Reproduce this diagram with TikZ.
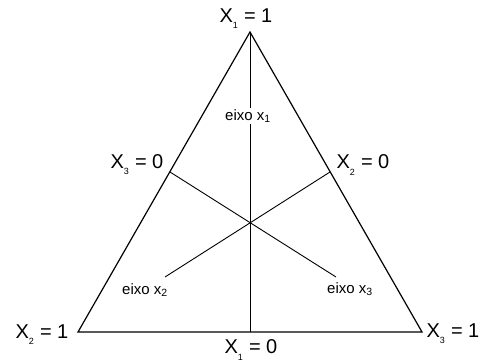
\documentclass[tikz,border=0pt]{standalone}
\usepackage{fontspec}
\setmainfont{Liberation Sans}
\usepackage{tikz}
\tikzset{
  vlbl/.style={font=\fontsize{20}{23}\selectfont, inner sep=1pt},
  eixo/.style={font=\fontsize{15}{17}\selectfont, inner sep=1.5pt},
}
\newcommand{\xs}[1]{X\textsubscript{\fontsize{9}{10}\selectfont\raisebox{-3pt}{#1}}}

\begin{document}
\begin{tikzpicture}[x=1pt, y=-1pt,
  side/.style={line width=1.2pt, line join=miter},
  axis/.style={line width=0.9pt}]
  \useasboundingbox (0,0) rectangle (482,363);
  \coordinate (v1) at (250,32);
  \coordinate (v2) at (78,332);
  \coordinate (v3) at (422,332);
  \coordinate (m3) at (170,172);
  \coordinate (m2) at (330,172);
  \coordinate (m1) at (250,332);
  \coordinate (e2) at (165,277);
  \coordinate (e3) at (336,277);
  \draw[side] (v1) -- (v2) -- (v3) -- cycle;
  \node[eixo] (ex1) at (248,116) {eixo x\textsubscript{1}};
  \node[eixo] (ex2) at (145,290) {eixo x\textsubscript{2}};
  \node[eixo] (ex3) at (350,289) {eixo x\textsubscript{3}};
  \draw[axis] (v1) -- (v1 |- ex1.north);
  \draw[axis] (v1 |- ex1.south) -- (m1);
  \draw[axis] (m2) -- (e2);
  \draw[axis] (m3) -- (e3);
  \node[vlbl] (l1) at (246,19)  {\xs{1} = 1};
  \node[vlbl] (l2) at (42,335)  {\xs{2} = 1};
  \node[vlbl] (l3) at (453,334) {\xs{3} = 1};
  \node[vlbl] (z1) at (251,350) {\xs{1} = 0};
  \node[vlbl] (z3) at (137,165) {\xs{3} = 0};
  \node[vlbl] (z2) at (363,165) {\xs{2} = 0};
\end{tikzpicture}
\end{document}
